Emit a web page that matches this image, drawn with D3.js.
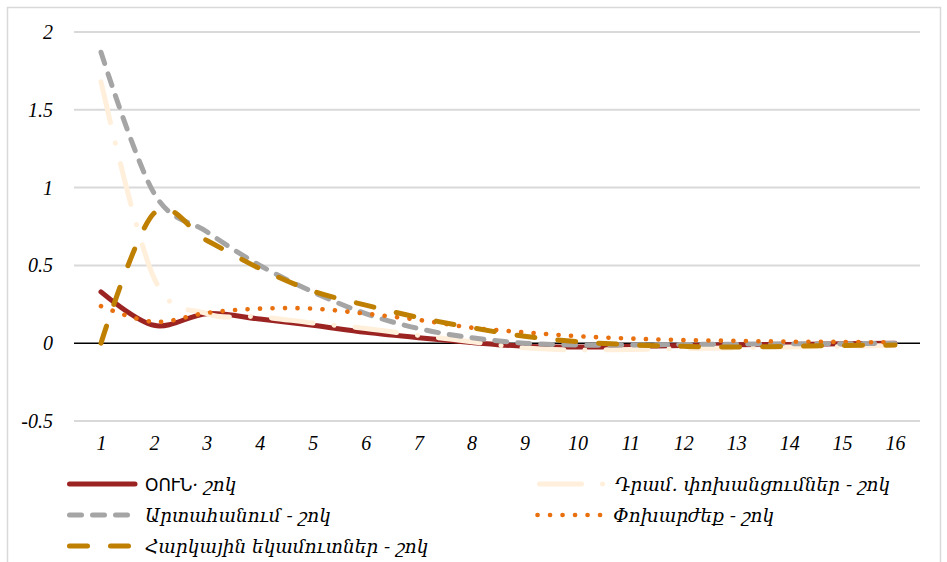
<!DOCTYPE html>
<html>
<head>
<meta charset="utf-8">
<script src="https://cdn.jsdelivr.net/npm/d3@7"></script>
<style>
  html, body { margin: 0; padding: 0; background: #fff; }
  svg { display: block; }
</style>
</head>
<body>
<svg id="chart" width="947" height="562"></svg>
<script>
// Periods after the shock
const periods = d3.range(1, 17);

// Impulse responses, one array per shock
const oun      = [0.33, 0.115, 0.19, 0.155, 0.115, 0.07, 0.035, 0.005, -0.02, -0.025, -0.02, -0.015, -0.01, -0.008, -0.004, 0.0];
const remit    = [1.68, 0.42, 0.19, 0.17, 0.13, 0.095, 0.05, 0.01, -0.03, -0.043, -0.04, -0.035, -0.03, -0.025, -0.02, -0.015];
const exportsS = [1.87, 0.965, 0.716, 0.50, 0.33, 0.19, 0.094, 0.035, 0.0, -0.012, -0.012, -0.008, -0.006, -0.004, -0.003, -0.002];
const fx       = [0.238, 0.137, 0.195, 0.222, 0.222, 0.19, 0.15, 0.10, 0.07, 0.045, 0.03, 0.02, 0.015, 0.01, 0.008, 0.005];
const taxRev   = [0.0, 0.835, 0.66, 0.48, 0.335, 0.245, 0.165, 0.10, 0.045, 0.01, -0.01, -0.02, -0.025, -0.02, -0.015, -0.012];

const seriesNames = [
  "ՕՈՒՆ· շոկ",
  "Դրամ. փոխանցումներ - շոկ",
  "Արտահանում - շոկ",
  "Փոխարժեք - շոկ",
  "Հարկային եկամուտներ - շոկ"
];
const seriesValues = [oun, remit, exportsS, fx, taxRev];

const yTicks = [-0.5, 0, 0.5, 1, 1.5, 2];
const xTicks = periods;

// Line styles per series
const styles = [
  { color: "#9B2423", width: 5,   dash: null,              cap: "round" },
  { color: "#FFEFDB", width: 5,   dash: "42,21,0.1,21",    cap: "round" },
  { color: "#A5A5A5", width: 5,   dash: "12,11",           cap: "round" },
  { color: "#E8700E", width: 4.6, dash: "0.1,12.4",        cap: "round" },
  { color: "#BF7F00", width: 5,   dash: "18,23",           cap: "round" }
];

const svg = d3.select("#chart");

// Outer frame
svg.append("rect")
  .attr("x", 7.5).attr("y", 7.5)
  .attr("width", 933).attr("height", 570)
  .attr("fill", "none")
  .attr("stroke", "#D9D9D9")
  .attr("stroke-width", 1.5);

const plot = { left: 74, right: 920, top: 32, bottom: 421 };

const x = d3.scaleLinear().domain([1, 16]).range([101, 895]);
const y = d3.scaleLinear().domain([-0.5, 2]).range([plot.bottom, plot.top]);

// Horizontal gridlines
svg.append("g")
  .selectAll("line")
  .data(yTicks.filter(d => d !== 0))
  .join("line")
  .attr("x1", plot.left).attr("x2", plot.right)
  .attr("y1", d => y(d)).attr("y2", d => y(d))
  .attr("stroke", "#D9D9D9")
  .attr("stroke-width", 2);

// Zero line
svg.append("line")
  .attr("x1", plot.left).attr("x2", plot.right)
  .attr("y1", y(0)).attr("y2", y(0))
  .attr("stroke", "#000")
  .attr("stroke-width", 1.5);

const tickFont = "'Liberation Serif', 'DejaVu Serif', serif";

// Y axis labels
const yAxis = svg.append("g")
  .attr("transform", `translate(${plot.left},0)`)
  .call(d3.axisLeft(y).tickValues(yTicks).tickSize(0).tickPadding(21)
    .tickFormat(d => String(d)));
yAxis.select(".domain").remove();
yAxis.selectAll("text")
  .attr("font-family", tickFont)
  .attr("font-style", "italic")
  .attr("font-size", 20)
  .attr("fill", "#000");

// X axis labels
const xAxis = svg.append("g")
  .attr("transform", `translate(0,${plot.bottom})`)
  .call(d3.axisBottom(x).tickValues(xTicks).tickSize(0).tickPadding(15)
    .tickFormat(d => String(d)));
xAxis.select(".domain").remove();
xAxis.selectAll("text")
  .attr("font-family", tickFont)
  .attr("font-style", "italic")
  .attr("font-size", 20)
  .attr("fill", "#000");

// Series lines
const line = d3.line()
  .x((d, i) => x(periods[i]))
  .y(d => y(d))
  .curve(d3.curveCardinal.tension(0));

svg.append("g")
  .selectAll("path")
  .data(seriesValues)
  .join("path")
  .attr("d", d => line(d))
  .attr("fill", "none")
  .attr("stroke", (d, i) => styles[i].color)
  .attr("stroke-width", (d, i) => styles[i].width)
  .attr("stroke-dasharray", (d, i) => styles[i].dash)
  .attr("stroke-linecap", (d, i) => styles[i].cap)
  .attr("stroke-linejoin", "round");

// Legend
const legendPos = [
  { x: 67,  y: 484 },
  { x: 537, y: 484 },
  { x: 67,  y: 515 },
  { x: 535, y: 515 },
  { x: 67,  y: 546 }
];
const legendFont = "'DejaVu Serif', serif";

const legend = svg.append("g");
seriesNames.forEach((name, i) => {
  const p = legendPos[i];
  const s = styles[i];
  legend.append("line")
    .attr("x1", p.x + 2.5).attr("x2", p.x + 68)
    .attr("y1", p.y).attr("y2", p.y)
    .attr("stroke", s.color)
    .attr("stroke-width", s.width)
    .attr("stroke-dasharray", s.dash)
    .attr("stroke-linecap", s.cap);

  const t = legend.append("text")
    .attr("x", p.x + 78)
    .attr("y", p.y + 7)
    .attr("font-size", 18.5)
    .attr("fill", "#000");
  if (i === 0) {
    const parts = name.split("·");
    t.append("tspan")
      .attr("font-family", "'DejaVu Sans', sans-serif")
      .attr("font-size", 17)
      .text(parts[0]);
    t.append("tspan")
      .attr("font-family", legendFont)
      .attr("font-style", "italic")
      .text("·" + parts[1]);
  } else {
    t.attr("font-family", legendFont)
      .attr("font-style", "italic")
      .text(name);
  }
});
</script>
</body>
</html>
